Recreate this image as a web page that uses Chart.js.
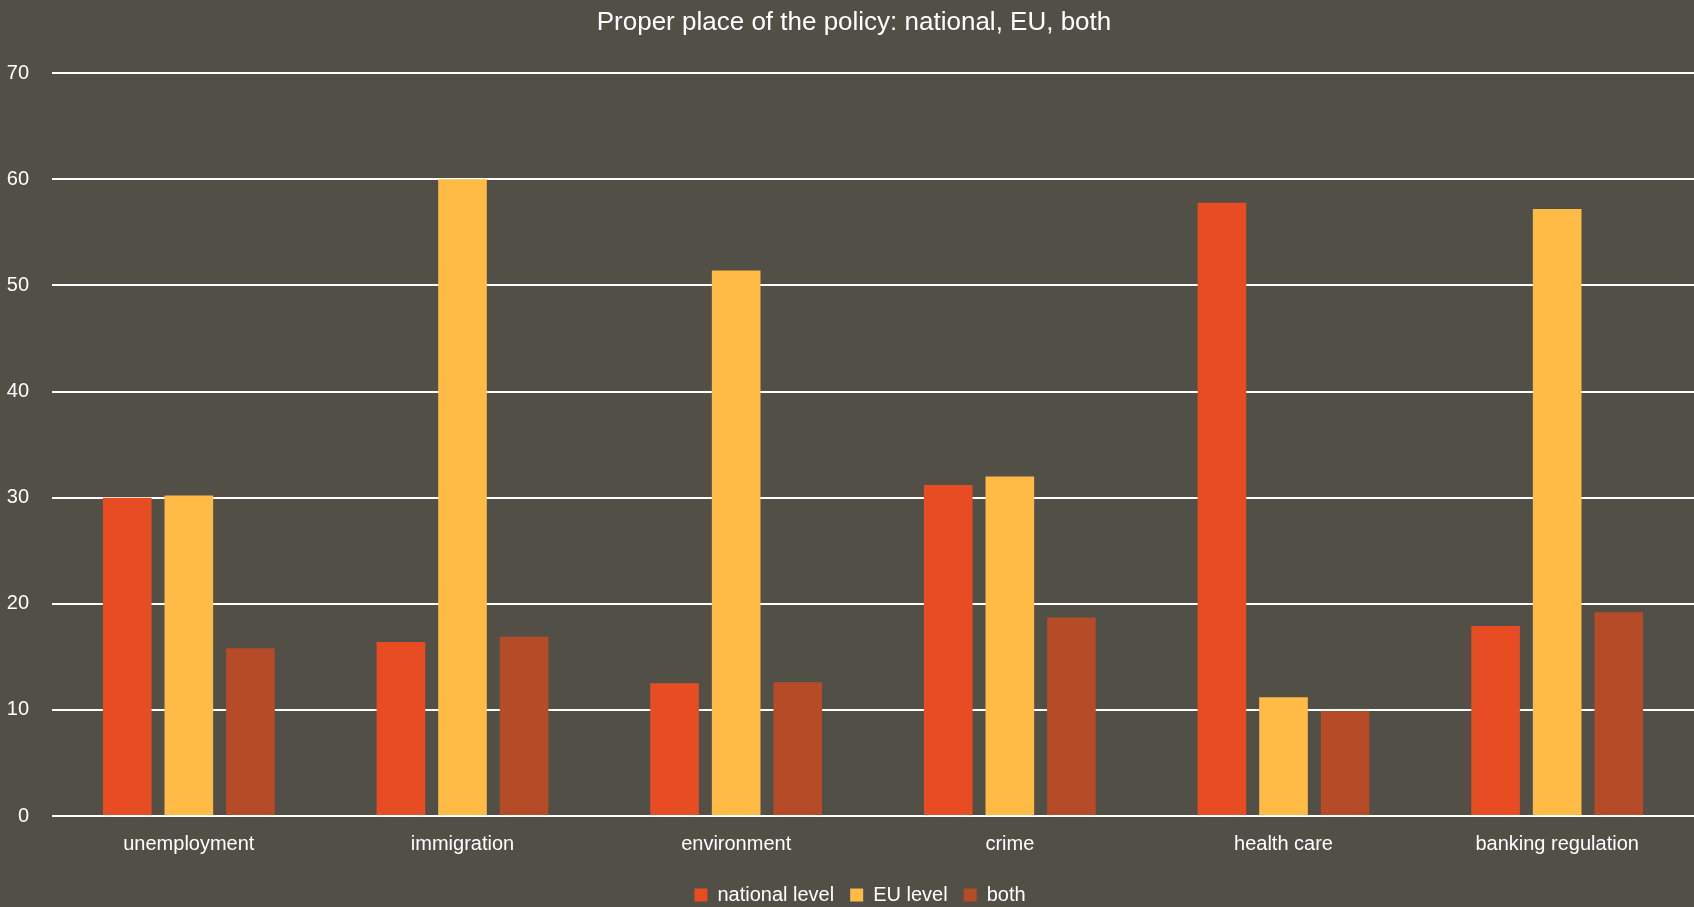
<!DOCTYPE html>
<html>
<head>
<meta charset="utf-8">
<script src="https://cdn.jsdelivr.net/npm/chart.js@4/dist/chart.umd.min.js"></script>
<style>
    html, body { margin: 0; padding: 0; background: #514f46; overflow: hidden; }
    #wrap { width: 1694px; height: 907px; position: relative; }
</style>
</head>
<body>
<div id="wrap"><canvas id="chart"></canvas></div>
<script>
const TITLE = 'Proper place of the policy: national, EU, both';
const FONT = '"Liberation Sans Narrow", "Arial Narrow", "Liberation Sans", sans-serif';

const categories = ['unemployment', 'immigration', 'environment', 'crime', 'health care', 'banking regulation'];
const seriesNames = ['national level', 'EU level', 'both'];
const nationalLevel = [30.0, 16.4, 12.5, 31.2, 57.8, 17.9];
const euLevel = [30.2, 60.0, 51.4, 32.0, 11.2, 57.2];
const both = [15.8, 16.9, 12.6, 18.7, 9.9, 19.2];
const yTicks = [0, 10, 20, 30, 40, 50, 60, 70];

const colors = ['#e84c22', '#ffbb45', '#b64b27'];

const makeDataset = (label, values, color) => ({
    label: label,
    data: values,
    backgroundColor: color,
    borderWidth: 0,
    categoryPercentage: 0.675,
    barPercentage: 0.79,
});

// legend sits tight against the bottom edge, title and legend a bit right of centre
const boxTweaks = {
    id: 'boxTweaks',
    beforeLayout: (chart) => {
        const lg = chart.legend;
        if (lg && !lg._patched) {
            const fit = lg.fit.bind(lg);
            lg.fit = function () {
                fit();
                this.height = 38;
            };
            lg._patched = true;
        }
    },
    afterLayout: (chart) => {
        if (chart.legend) {
            chart.legend.left += 13;
            chart.legend.right += 13;
        }
        if (chart.titleBlock) {
            chart.titleBlock.left += 7;
            chart.titleBlock.right += 7;
        }
    }
};

new Chart(
    document.getElementById('chart'),
    {
        type: 'bar',
        data: {
            labels: categories,
            datasets: [
                makeDataset(seriesNames[0], nationalLevel, colors[0]),
                makeDataset(seriesNames[1], euLevel, colors[1]),
                makeDataset(seriesNames[2], both, colors[2]),
            ]
        },
        plugins: [boxTweaks],
        options: {
            responsive: true,
            maintainAspectRatio: false,
            animation: false,
            layout: { padding: 0 },
            plugins: {
                title: {
                    display: true,
                    text: TITLE,
                    color: '#ffffff',
                    font: { family: FONT, size: 26, weight: 'normal' },
                    padding: { top: 7, bottom: 35 },
                },
                legend: {
                    position: 'bottom',
                    labels: {
                        color: '#ffffff',
                        font: { family: FONT, size: 20 },
                        boxWidth: 13,
                        boxHeight: 13,
                        padding: 16,
                    },
                },
                tooltip: { enabled: false },
            },
            scales: {
                x: {
                    afterFit: (axis) => { axis.height = 53; },
                    grid: { display: false, drawTicks: false },
                    border: { display: false },
                    ticks: {
                        color: '#ffffff',
                        font: { family: FONT, size: 20 },
                        padding: 16,
                    },
                },
                y: {
                    min: 0,
                    max: 70,
                    afterBuildTicks: (axis) => {
                        axis.ticks = yTicks.map(v => ({ value: v }));
                    },
                    afterFit: (axis) => { axis.width = 52; },
                    grid: {
                        color: '#ffffff',
                        lineWidth: 2,
                        drawTicks: false,
                    },
                    border: { display: false },
                    ticks: {
                        color: '#ffffff',
                        font: { family: FONT, size: 20 },
                        padding: 23,
                    },
                },
            },
        }
    }
);
</script>
</body>
</html>
